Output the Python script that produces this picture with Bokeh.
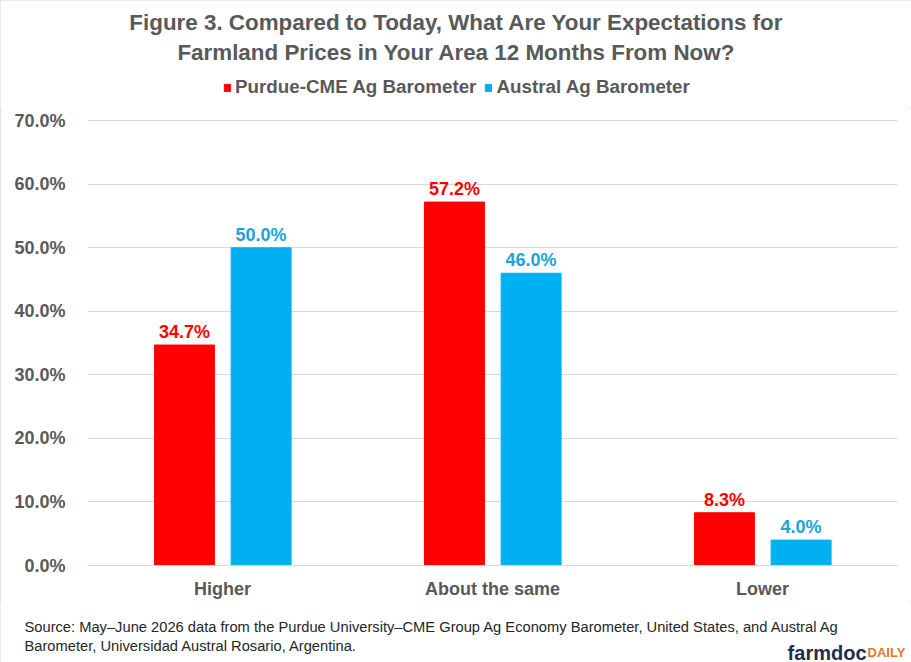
from bokeh.plotting import figure
from bokeh.layouts import column
from bokeh.models import (ColumnDataSource, FactorRange, Range1d, FixedTicker,
                          PrintfTickFormatter, LabelSet, Label, Legend, LegendItem)
from bokeh.core.properties import value
from bokeh.transform import dodge
from bokeh.embed import file_html
from bokeh.resources import INLINE

categories = ["Higher", "About the same", "Lower"]
purdue = [34.7, 57.2, 8.3]
austral = [50.0, 46.0, 4.0]
y_ticks = [0, 10, 20, 30, 40, 50, 60, 70]
series_names = ["Purdue-CME Ag Barometer", "Austral Ag Barometer"]

RED = "#FF0000"
BLUE = "#00B0F0"
GREY = "#595959"
FONT = "Liberation Sans"
W = 911


def blank(height):
    # figure used only as a canvas for texts, 1 data unit = 1 pixel
    f = figure(width=W, height=height, x_range=Range1d(0, W), y_range=Range1d(0, height),
               x_axis_location=None, y_axis_location=None, frame_align=False,
               output_backend="svg", toolbar_location=None,
               min_border_left=0, min_border_right=0,
               min_border_top=0, min_border_bottom=0)
    f.grid.visible = False
    f.outline_line_color = None
    return f


# ---- title + legend
top = blank(108)
for txt, y in [("Figure 3. Compared to Today, What Are Your Expectations for", 86),
               ("Farmland Prices in Your Area 12 Months From Now?", 56)]:
    top.add_layout(Label(x=456, y=y, text=txt, text_align="center", text_baseline="middle",
                         text_font=FONT, text_font_style="bold", text_font_size="22.4px",
                         text_color=GREY))

nan = float("nan")
lr1 = top.vbar(x=[nan], top=[nan], width=1, color=RED)
lr2 = top.vbar(x=[nan], top=[nan], width=1, color=BLUE)
legend = Legend(items=[LegendItem(label=series_names[0], renderers=[lr1]),
                       LegendItem(label=series_names[1], renderers=[lr2])],
                orientation="horizontal", location=(223, 10), padding=0, margin=0,
                spacing=8, label_standoff=4, glyph_width=8, glyph_height=9,
                border_line_color=None, background_fill_alpha=0,
                label_text_font=FONT, label_text_font_style="bold",
                label_text_font_size="18.8px", label_text_color=GREY)
top.add_layout(legend)

# ---- main chart
source = ColumnDataSource(data=dict(
    cat=categories,
    purdue=purdue,
    austral=austral,
    purdue_txt=[f"{v:.1f}%" for v in purdue],
    austral_txt=[f"{v:.1f}%" for v in austral],
))

p = figure(x_range=FactorRange(*categories), y_range=Range1d(0, 70.2),
           width=W, height=493, output_backend="svg", toolbar_location=None,
           frame_align=False,
           min_border_left=87, min_border_right=14, min_border_top=11, min_border_bottom=36)
p.outline_line_color = None
p.xgrid.grid_line_color = None
p.ygrid.grid_line_color = "#D9D9D9"

p.vbar(x=dodge("cat", -0.141, range=p.x_range), top="purdue", width=0.222,
       source=source, color=RED)
p.vbar(x=dodge("cat", 0.143, range=p.x_range), top="austral", width=0.222,
       source=source, color=BLUE)

p.add_layout(LabelSet(x=dodge("cat", -0.141, range=p.x_range), y="purdue", text="purdue_txt",
                      source=source, text_align="center", text_baseline="bottom", y_offset=3,
                      text_font=value(FONT), text_font_style="bold", text_font_size="18px",
                      text_color=RED))
p.add_layout(LabelSet(x=dodge("cat", 0.143, range=p.x_range), y="austral", text="austral_txt",
                      source=source, text_align="center", text_baseline="bottom", y_offset=3,
                      text_font=value(FONT), text_font_style="bold", text_font_size="18px",
                      text_color="#1AA3DC"))

p.yaxis.ticker = FixedTicker(ticks=y_ticks)
p.yaxis.formatter = PrintfTickFormatter(format="%.1f%%")
p.yaxis.axis_line_color = None
p.yaxis.major_tick_line_color = None
p.yaxis.minor_tick_line_color = None
p.yaxis.major_label_standoff = 16
p.xaxis.axis_line_color = "#D9D9D9"
p.xaxis.major_tick_line_color = None
p.xaxis.major_label_standoff = 7
for ax in (p.xaxis, p.yaxis):
    ax.major_label_text_font = FONT
    ax.major_label_text_font_style = "bold"
    ax.major_label_text_font_size = "18px"
    ax.major_label_text_color = GREY

# ---- source note + logo
bottom = blank(61)
for txt, y in [("Source: May\u2013June 2026 data from the Purdue University\u2013CME Group Ag Economy Barometer, United States, and Austral Ag", 36),
               ("Barometer, Universidad Austral Rosario, Argentina.", 17)]:
    bottom.add_layout(Label(x=24, y=y, text=txt, text_align="left", text_baseline="middle",
                            text_font=FONT, text_font_size="14.7px", text_color="#262626"))
bottom.add_layout(Label(x=866, y=10, text="farmdoc", text_align="right",
                        text_baseline="alphabetic", text_font=FONT,
                        text_font_style="bold", text_font_size="20px", text_color="#232D4B"))
bottom.add_layout(Label(x=867, y=10, text="DAILY", text_align="left",
                        text_baseline="alphabetic", text_font=FONT,
                        text_font_style="bold", text_font_size="13px", text_color="#E87722"))

layout = column(top, p, bottom, spacing=0)
layout.styles = {"outline": "2px solid #D9D9D9", "outline-offset": "-2px"}
open("out.html", "w").write(file_html(layout, INLINE))
